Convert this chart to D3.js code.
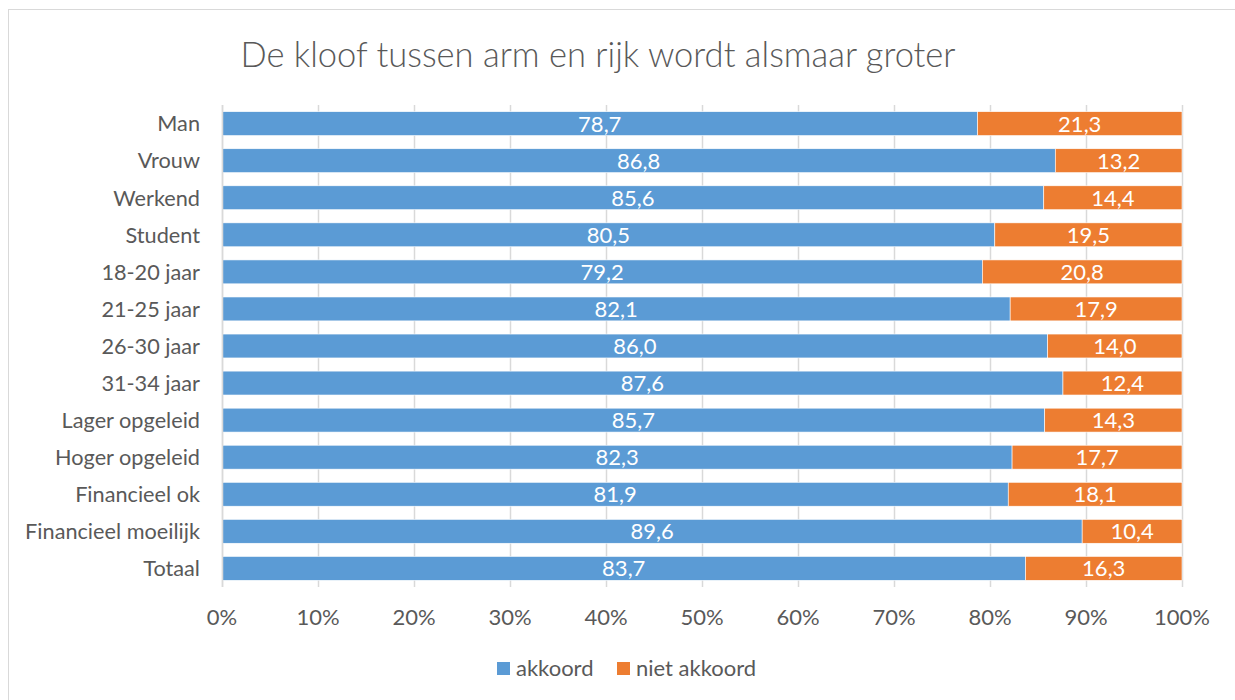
<!DOCTYPE html>
<html>
<head>
<meta charset="utf-8">
<script src="https://cdn.jsdelivr.net/npm/d3@7"></script>
<style>
  body { margin: 0; background: #fff; }
  text { font-family: Lato, "Open Sans", sans-serif; }
</style>
</head>
<body>
<svg width="1235" height="700"></svg>
<script>
const categories = ['Man', 'Vrouw', 'Werkend', 'Student', '18-20 jaar', '21-25 jaar', '26-30 jaar',
  '31-34 jaar', 'Lager opgeleid', 'Hoger opgeleid', 'Financieel ok', 'Financieel moeilijk', 'Totaal'];
const akkoord = [78.7, 86.8, 85.6, 80.5, 79.2, 82.1, 86.0, 87.6, 85.7, 82.3, 81.9, 89.6, 83.7];
const nietAkkoord = [21.3, 13.2, 14.4, 19.5, 20.8, 17.9, 14.0, 12.4, 14.3, 17.7, 18.1, 10.4, 16.3];
const seriesNames = ['akkoord', 'niet akkoord'];
const xTicks = [0, 10, 20, 30, 40, 50, 60, 70, 80, 90, 100];
const title = 'De kloof tussen arm en rijk wordt alsmaar groter';

const colors = ['#5B9BD5', '#ED7D31'];
const nl = d3.formatLocale({decimal: ',', thousands: '.', grouping: [3], currency: ['€', '']});
const fmt = nl.format('.1f');

const svg = d3.select('svg');

// chart frame
svg.append('rect')
  .attr('x', 8.5).attr('y', 9.5)
  .attr('width', 1300).attr('height', 800)
  .attr('fill', 'none').attr('stroke', '#d9d9d9');

svg.append('text')
  .attr('x', 598).attr('y', 67)
  .attr('text-anchor', 'middle')
  .attr('font-size', 34.5)
  .attr('font-weight', 300)
  .attr('fill', '#595959')
  .text(title);

const x = d3.scaleLinear().domain([0, 100]).range([222, 1182]);
const y = d3.scaleBand().domain(categories).range([105, 587]).paddingInner(0.355).paddingOuter(0.18);

// gridlines
svg.append('g').selectAll('line').data(xTicks).join('line')
  .attr('x1', d => Math.round(x(d)) + 0.5).attr('x2', d => Math.round(x(d)) + 0.5)
  .attr('y1', 105).attr('y2', 587)
  .attr('stroke', '#d9d9d9').attr('stroke-width', 1.5);

const rows = categories.map((c, i) => ({cat: c, vals: [akkoord[i], nietAkkoord[i]]}));
const stack = d3.stack().keys([0, 1]).value((d, k) => d.vals[k]);
const layers = stack(rows);

layers.forEach((layer, k) => {
  const g = svg.append('g');
  g.selectAll('rect').data(layer).join('rect')
    .attr('x', d => x(d[0]))
    .attr('y', d => y(d.data.cat))
    .attr('width', d => x(d[1]) - x(d[0]))
    .attr('height', y.bandwidth())
    .attr('fill', colors[k])
    .attr('stroke', '#fff').attr('stroke-width', 0.6);
  g.selectAll('text').data(layer).join('text')
    .attr('x', d => (x(d[0]) + x(d[1])) / 2)
    .attr('y', d => y(d.data.cat) + y.bandwidth() / 2)
    .attr('dy', '0.36em')
    .attr('text-anchor', 'middle')
    .attr('font-size', 22)
    .attr('fill', '#fff')
    .text(d => fmt(d.data.vals[k]));
});

// y axis line
svg.append('line')
  .attr('x1', 222.5).attr('x2', 222.5).attr('y1', 105).attr('y2', 587)
  .attr('stroke', '#d9d9d9').attr('stroke-width', 1.5);

// category labels
svg.append('g').selectAll('text').data(categories).join('text')
  .attr('x', 200)
  .attr('y', d => y(d) + y.bandwidth() / 2)
  .attr('dy', '0.36em')
  .attr('text-anchor', 'end')
  .attr('font-size', 21.7)
  .attr('fill', '#595959')
  .text(d => d);

// x tick labels
svg.append('g').selectAll('text').data(xTicks).join('text')
  .attr('x', d => x(d))
  .attr('y', 625)
  .attr('text-anchor', 'middle')
  .attr('font-size', 22)
  .attr('fill', '#595959')
  .text(d => d + '%');

// legend
const legendX = [497, 617];
const legend = svg.append('g').selectAll('g').data(seriesNames).join('g')
  .attr('transform', (d, i) => `translate(${legendX[i]},662)`);
legend.append('rect')
  .attr('width', 13).attr('height', 13)
  .attr('fill', (d, i) => colors[i]);
legend.append('text')
  .attr('x', 19).attr('y', 14)
  .attr('font-size', 22)
  .attr('fill', '#595959')
  .text(d => d);
</script>
</body>
</html>
